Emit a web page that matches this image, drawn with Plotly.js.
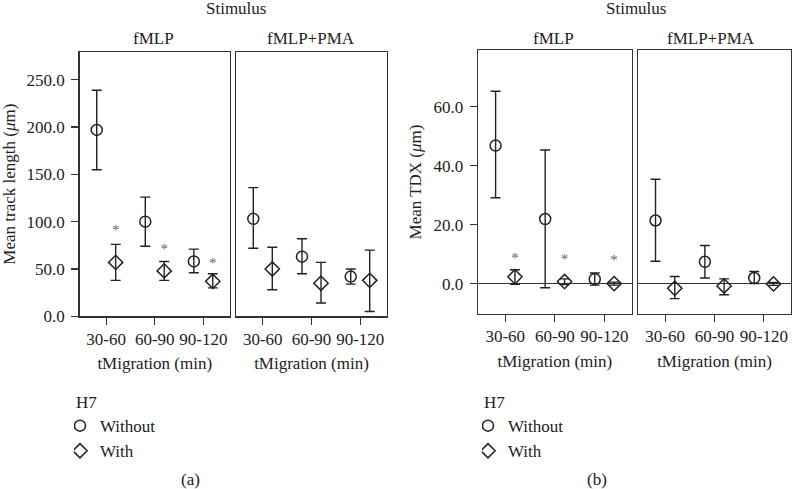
<!DOCTYPE html>
<html>
<head>
<meta charset="utf-8">
<script src="https://cdn.plot.ly/plotly-3.0.1.min.js"></script>
<style>
  html, body { margin: 0; padding: 0; background: #fff; }
  #chart { width: 792px; height: 489px; }
</style>
</head>
<body>
<div id="chart"></div>
<script>
// ---------- data ----------
const categories = ['30-60', '60-90', '90-120'];
const groupNames = ['Without', 'With'];

// (a) Mean track length (um)
const trackFmlpWithoutMean = [197, 100, 58];
const trackFmlpWithoutLow  = [155, 74, 46];
const trackFmlpWithoutHigh = [239, 126, 71];
const trackFmlpWithMean    = [57, 48, 37];
const trackFmlpWithLow     = [38, 38, 30];
const trackFmlpWithHigh    = [76, 58, 45];
const trackPmaWithoutMean  = [103, 63, 42];
const trackPmaWithoutLow   = [72, 45, 34];
const trackPmaWithoutHigh  = [136, 82, 50];
const trackPmaWithMean     = [50, 35, 38];
const trackPmaWithLow      = [28, 14, 5];
const trackPmaWithHigh     = [73, 57, 70];
const trackStarLevel       = [89.5, 70, 55.5];

// (b) Mean TDX (um)
const tdxFmlpWithoutMean = [46.8, 21.9, 1.5];
const tdxFmlpWithoutLow  = [29.1, -1.4, -0.5];
const tdxFmlpWithoutHigh = [65.2, 45.3, 3.6];
const tdxFmlpWithMean    = [2.3, 0.7, 0.0];
const tdxFmlpWithLow     = [-0.2, -0.3, -0.5];
const tdxFmlpWithHigh    = [4.7, 1.6, 0.5];
const tdxPmaWithoutMean  = [21.4, 7.4, 1.9];
const tdxPmaWithoutLow   = [7.6, 1.9, 0.0];
const tdxPmaWithoutHigh  = [35.4, 12.9, 4.1];
const tdxPmaWithMean     = [-1.6, -0.8, -0.1];
const tdxPmaWithLow      = [-5.1, -3.8, -0.6];
const tdxPmaWithHigh     = [2.4, 1.6, 0.4];
const tdxStarLevel       = [8.2, 8.0, 7.6];

// ---------- styling ----------
const INK = '#222222';
const FONT = 'Liberation Serif, Times New Roman, serif';
const FS = 17;
const symbols = { Without: 'circle-open', With: 'diamond-open' };

function pointTrace(name, mean, low, high, xa, ya) {
  return {
    type: 'scatter', mode: 'markers',
    x: categories, y: mean,
    xaxis: xa, yaxis: ya,
    offsetgroup: name,
    showlegend: false,
    marker: { symbol: symbols[name], size: 11, color: INK, line: { color: INK, width: 1.5 } },
    error_y: {
      type: 'data', symmetric: false,
      array: high.map((h, i) => h - mean[i]),
      arrayminus: mean.map((m, i) => m - low[i]),
      color: INK, thickness: 1.4, width: 5
    },
    hoverinfo: 'skip'
  };
}
function starTrace(levels, xa, ya) {
  return {
    type: 'scatter', mode: 'text',
    x: categories, y: levels, text: categories.map(() => '*'),
    xaxis: xa, yaxis: ya, offsetgroup: 'With', showlegend: false,
    textposition: 'middle center',
    textfont: { family: FONT, size: 15, color: '#666666' },
    hoverinfo: 'skip'
  };
}
function legendTrace(name, legendId, xa, ya) {
  return {
    type: 'scatter', mode: 'markers', x: [null], y: [null],
    xaxis: xa, yaxis: ya, offsetgroup: name,
    name: name, legend: legendId, showlegend: true,
    marker: { symbol: symbols[name], size: 11, color: INK, line: { color: INK, width: 1.5 } },
    hoverinfo: 'skip'
  };
}

const data = [
  pointTrace('Without', trackFmlpWithoutMean, trackFmlpWithoutLow, trackFmlpWithoutHigh, 'x', 'y'),
  pointTrace('With', trackFmlpWithMean, trackFmlpWithLow, trackFmlpWithHigh, 'x', 'y'),
  starTrace(trackStarLevel, 'x', 'y'),
  pointTrace('Without', trackPmaWithoutMean, trackPmaWithoutLow, trackPmaWithoutHigh, 'x2', 'y2'),
  pointTrace('With', trackPmaWithMean, trackPmaWithLow, trackPmaWithHigh, 'x2', 'y2'),
  pointTrace('Without', tdxFmlpWithoutMean, tdxFmlpWithoutLow, tdxFmlpWithoutHigh, 'x3', 'y3'),
  pointTrace('With', tdxFmlpWithMean, tdxFmlpWithLow, tdxFmlpWithHigh, 'x3', 'y3'),
  starTrace(tdxStarLevel, 'x3', 'y3'),
  pointTrace('Without', tdxPmaWithoutMean, tdxPmaWithoutLow, tdxPmaWithoutHigh, 'x4', 'y4'),
  pointTrace('With', tdxPmaWithMean, tdxPmaWithLow, tdxPmaWithHigh, 'x4', 'y4'),
  legendTrace('Without', 'legend', 'x', 'y'),
  legendTrace('With', 'legend', 'x', 'y'),
  legendTrace('Without', 'legend2', 'x3', 'y3'),
  legendTrace('With', 'legend2', 'x3', 'y3')
];

const W = 792, H = 489;
const px = v => v / W, py = v => 1 - v / H;

function xAxis(d0, d1, anchor) {
  return {
    type: 'category', categoryorder: 'array', categoryarray: categories,
    range: [-0.55, 2.55], domain: [px(d0), px(d1)], anchor: anchor,
    showline: true, mirror: true, linecolor: '#333', linewidth: 1.3,
    ticks: 'outside', ticklen: 7, tickwidth: 1.3, tickcolor: '#333',
    ticklabelstandoff: 0,
    showgrid: false, zeroline: false,
    tickfont: { family: FONT, size: FS, color: INK },
    title: { text: 'tMigration (min)', standoff: 9, font: { family: FONT, size: FS, color: INK } }
  };
}
function yAxis(d0, d1, range, dtick, anchor, title, zero) {
  const ax = {
    range: range, domain: [py(d1), py(d0)], anchor: anchor,
    showline: true, mirror: true, linecolor: '#333', linewidth: 1.3,
    showgrid: false, zeroline: zero, zerolinecolor: '#333', zerolinewidth: 1.3,
    tick0: 0, dtick: dtick, tickformat: '.1f'
  };
  if (title) {
    Object.assign(ax, {
      ticks: 'outside', ticklen: 7, tickwidth: 1.3, tickcolor: '#333',
      ticklabelstandoff: 3,
      tickfont: { family: FONT, size: FS, color: INK },
      title: { text: title, standoff: 7, font: { family: FONT, size: FS, color: INK } }
    });
  } else {
    Object.assign(ax, { ticks: '', showticklabels: false });
  }
  return ax;
}

function label(text, x, y, size, color) {
  return {
    text: text, xref: 'paper', yref: 'paper', x: px(x), y: py(y),
    xanchor: 'center', yanchor: 'middle', showarrow: false,
    font: { family: FONT, size: size || FS, color: color || INK }
  };
}

const legendBase = {
  yanchor: 'top', xanchor: 'left', y: py(386),
  bgcolor: 'rgba(0,0,0,0)', borderwidth: 0,
  font: { family: FONT, size: FS, color: INK },
  title: { text: 'H7', font: { family: FONT, size: FS, color: INK } },
  indentation: -14, tracegroupgap: 0
};

const layout = {
  width: W, height: H,
  margin: { l: 0, r: 0, t: 0, b: 0 },
  paper_bgcolor: '#fff', plot_bgcolor: '#fff',
  font: { family: FONT, size: FS, color: INK },
  scattermode: 'group', scattergap: 0.22,
  xaxis:  xAxis(79.5, 230, 'y'),
  xaxis2: xAxis(236, 387, 'y2'),
  xaxis3: xAxis(478, 631.7, 'y3'),
  xaxis4: xAxis(638, 791, 'y4'),
  yaxis:  yAxis(52, 316.3, [0, 279.4], 50, 'x', 'Mean track length (<i>μ</i>m)', false),
  yaxis2: yAxis(52, 316.3, [0, 279.4], 50, 'x2', null, false),
  yaxis3: yAxis(50.3, 313.7, [-10.2, 79.1], 20, 'x3', 'Mean TDX (<i>μ</i>m)', true),
  yaxis4: yAxis(50.3, 313.7, [-10.2, 79.1], 20, 'x4', null, true),
  legend:  Object.assign({}, legendBase, { x: px(74) }),
  legend2: Object.assign({}, legendBase, { x: px(482) }),
  annotations: [
    label('Stimulus', 236, 8),
    label('fMLP', 153.7, 38.5),
    label('fMLP+PMA', 311, 38.5),
    label('Stimulus', 636, 8),
    label('fMLP', 553, 38.5),
    label('fMLP+PMA', 711, 38.5),
    label('(a)', 190.7, 479),
    label('(b)', 597, 479)
  ],
  showlegend: true
};

Plotly.newPlot('chart', data, layout, { staticPlot: true, displayModeBar: false });
</script>
</body>
</html>
